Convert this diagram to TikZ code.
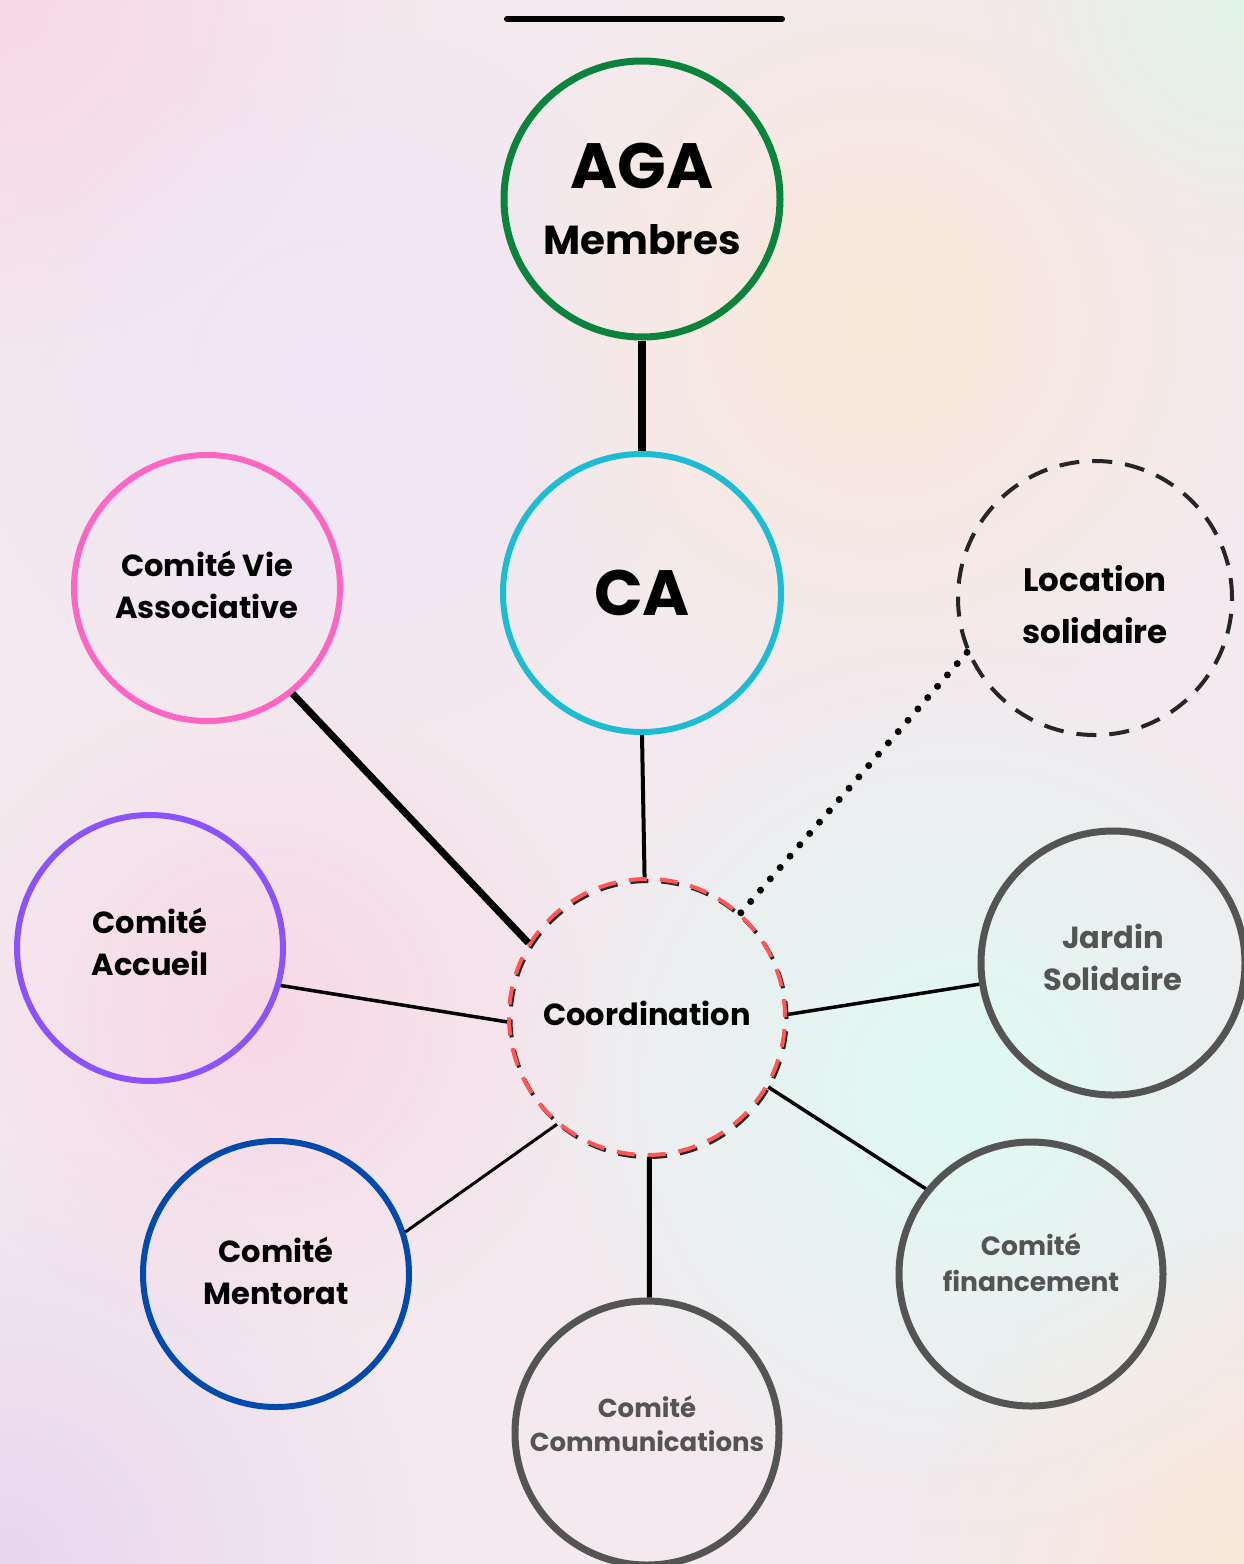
\documentclass[tikz,border=0pt]{standalone}
\usepackage{fontspec}
\setmainfont{Poppins}
\usetikzlibrary{fadings}
\definecolor{aggreen}{RGB}{10,132,60}
\definecolor{cacyan}{RGB}{28,188,212}
\definecolor{vpink}{RGB}{255,102,196}
\definecolor{apurple}{RGB}{140,82,255}
\definecolor{mblue}{RGB}{0,74,173}
\definecolor{cgray}{RGB}{84,84,84}
\definecolor{cred}{RGB}{255,87,87}
\definecolor{bgbase}{RGB}{244,233,238}
\definecolor{bgmint}{RGB}{222,250,244}
\definecolor{bgpeach}{RGB}{250,234,218}
\definecolor{bglav}{RGB}{239,230,248}
\definecolor{bgpink}{RGB}{248,216,230}
\definecolor{bglav2}{RGB}{233,214,240}
\definecolor{bgmint2}{RGB}{226,244,232}
\tikzfading[name=softfade, inner color=transparent!0, outer color=transparent!100]
\tikzset{
  bubble/.style={circle, draw, inner sep=0pt, minimum size=#1, align=center, font=\bfseries},
  ctext/.style={font={\bfseries\fontsize{30.5}{42}\selectfont}},
  link/.style={line width=3.5pt, black},
  blob/.style={path fading=softfade}
}
\begin{document}
\begin{tikzpicture}[x=1pt,y=-1pt]
\useasboundingbox (0,0) rectangle (1244,1564);
\clip (0,0) rectangle (1244,1564);
% background
\fill[bgbase] (0,0) rectangle (1244,1564);
\fill[bgpink, blob] (0,0) circle (420);
\fill[bglav, blob] (330,380) circle (360);
\fill[bgpeach, blob] (880,320) circle (400);
\fill[bgmint2, blob] (1244,0) circle (260);
\fill[bgmint, blob] (960,1090) circle (450);
\fill[bgpink, blob] (260,1020) circle (330);
\fill[bglav2, blob] (0,1564) circle (420);
\fill[bgpeach, blob] (1244,1564) circle (330);

% top bar
\coordinate (tl) at (507,19);
\coordinate (tr) at (782,19);
\draw[line width=6pt, line cap=round] (tl) -- (tr);

% nodes
\node[bubble=276pt, draw=aggreen, line width=7pt, font={\bfseries\fontsize{40.5}{66}\selectfont}] (aga) at (642,199)
  {{\fontsize{64}{66}\selectfont AGA}\\Membres};
\node[bubble=278pt, draw=cacyan, line width=6pt, font={\bfseries\fontsize{64}{70}\selectfont}] (ca) at (642,593) {CA};
\node[bubble=266pt, draw=vpink, line width=6pt, ctext] (vie) at (207,588) {Comité Vie\\Associative\\[-36pt]};
\node[circle, inner sep=0pt, minimum size=274pt, draw=black!85, line width=4pt, dash pattern=on 20pt off 13pt,
      label={[name=loctxt, align=center, font={\bfseries\fontsize{32.5}{52}\selectfont}, yshift=-7pt]center:{Location\\solidaire}}]
      (loc) at (1095,598) {};
\node[bubble=266pt, draw=apurple, line width=6pt, ctext] (acc) at (150,948) {Comité\\Accueil\\[-30pt]};
\node[bubble=266pt, draw=mblue, line width=6pt, ctext] (men) at (276,1274) {Comité\\Mentorat\\[-36pt]};
\node[bubble=264pt, draw=cgray, line width=7pt, ctext, text=cgray] (jar) at (1113,963) {Jardin\\Solidaire\\[-30pt]};
\node[bubble=264pt, draw=cgray, line width=7pt, font={\bfseries\fontsize{26.5}{36}\selectfont}, text=cgray] (fin) at (1031,1274)
  {Comité\\financement\\[-12pt]};
\node[bubble=264pt, draw=cgray, line width=7pt, font={\bfseries\fontsize{26}{34}\selectfont}, text=cgray] (com) at (647,1433)
  {Comité\\Communications\\[-16pt]};
% coordination: shadow + red dashes
\node[circle, inner sep=0pt, minimum size=276pt, draw=black!85, line width=4pt, dash pattern=on 18pt off 13pt]
  (coordsh) at (648.5,1019) {};
\node[bubble=276pt, draw=cred, line width=4pt, dash pattern=on 18pt off 13pt, ctext] (coord) at (647,1017) {Coordination\\[-34pt]};

% connectors
\draw[line width=8pt] (aga.-90) -- (ca.90);
\draw[line width=4pt] (ca.-90) -- (coord.91);
\draw[line width=7pt] (vie.-51) -- (coord.148);
\draw[line width=7pt, line cap=round, dash pattern=on 0pt off 15pt] (loc.203) -- (coord.48);
\draw[link] (acc.-16) -- (coord.182);
\draw[link] (jar.189) -- (coord.1);
\draw[line width=3pt] (men.18) -- (coord.230);
\draw[link] (fin.141) -- (coord.-30);
\draw[line width=5pt] (com.89) -- (coord.-89);
\end{tikzpicture}
\end{document}
